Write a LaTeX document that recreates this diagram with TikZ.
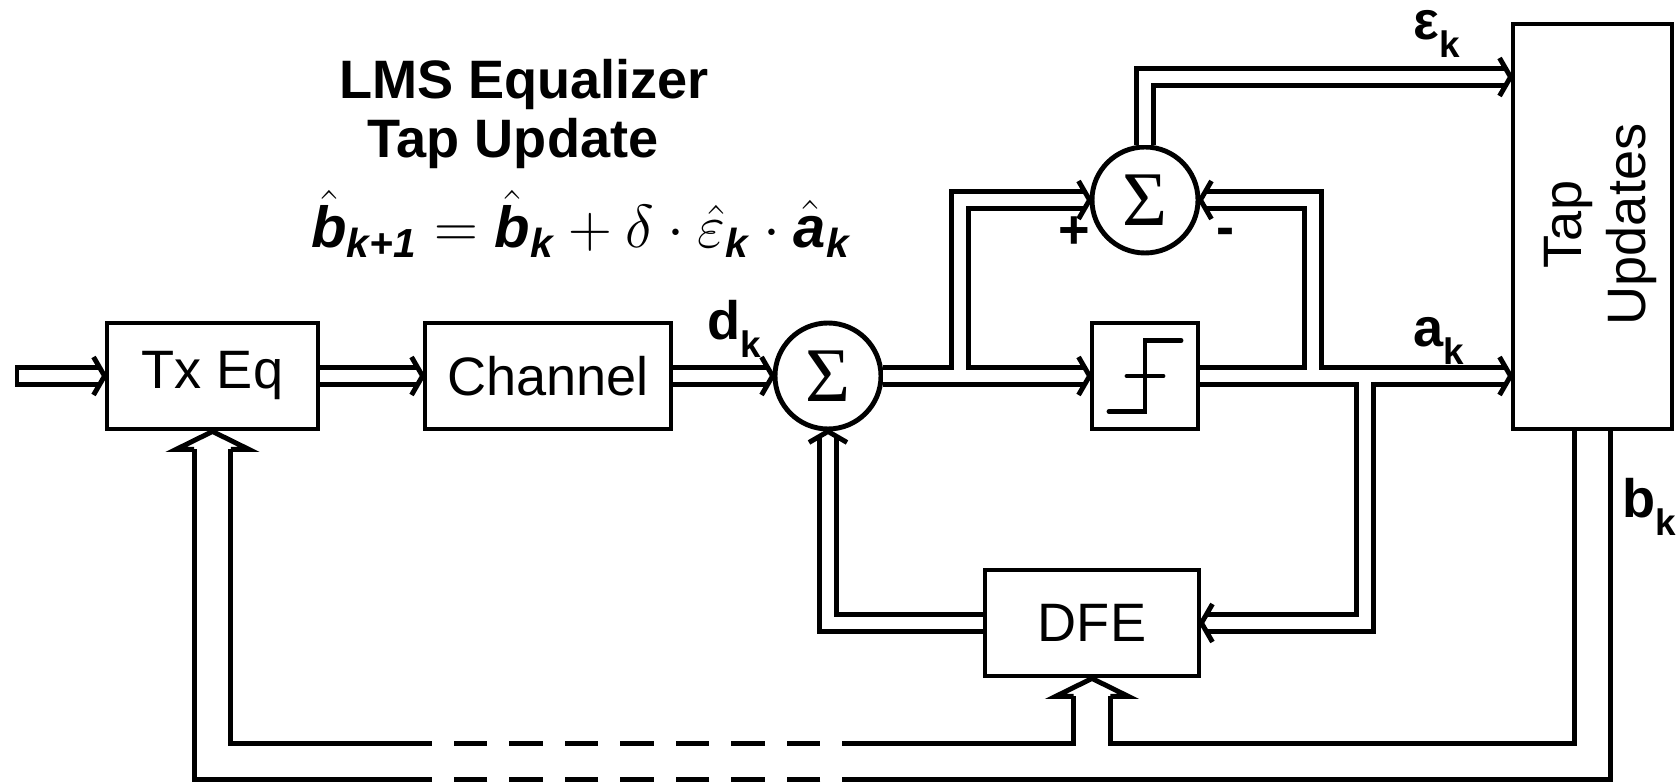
\documentclass[tikz,border=0pt]{standalone}
\usepackage{amsmath}
\usepackage{fontspec}
\setmainfont{Liberation Sans}
\newfontfamily\sigmafont{Liberation Serif}
\usepackage{tikz}
\usetikzlibrary{arrows.meta, calc}

\newcommand{\bsub}[2]{#1\raisebox{-5pt}{\fontsize{10.5}{11}\selectfont #2}}
\newcommand{\bhat}[1]{\hat{\text{\bfseries\itshape #1}}}

\begin{document}
\begin{tikzpicture}[
    blk/.style={draw, line width=1.4pt, minimum height=1.06cm, inner sep=0pt,
        font=\fontsize{15.4}{18}\selectfont},
    sumnode/.style={draw, circle, line width=1.4pt, minimum size=1.06cm, inner sep=0pt,
        font=\sigmafont\fontsize{22}{22}\selectfont},
    bus/.style={double, double distance=3.4pt, line width=1.4pt, shorten >=0.05cm},
    widebus/.style={double, double distance=9pt, line width=1.4pt},
    lbl/.style={font=\bfseries\fontsize{15.4}{18}\selectfont, inner sep=0pt},
    pics/narrowhead/.style={code={
        \draw[line width=1.4pt, line join=miter] (-0.11,0.19) -- (0,0) -- (-0.11,-0.19);
    }},
    pics/widehead/.style={code={
        \draw[line width=1.4pt, line join=miter] (-0.18,0.183) -- (-0.18,0.365) -- (0,0) -- (-0.18,-0.365) -- (-0.18,-0.183);
    }}
]
    % Frame of the picture
    \useasboundingbox (0,0) rectangle (16.77,-7.83);

    % Blocks
    \node[blk, minimum width=2.11cm] (txeq) at (2.125,-3.76) {Tx Eq};
    \node[blk, minimum width=2.46cm] (chan) at (5.48,-3.76) {Channel};
    \node[sumnode] (sum1) at (8.28,-3.76) {Σ};
    \node[sumnode] (sum2) at (11.45,-2.00) {Σ};
    \node[blk, minimum width=1.06cm] (slicer) at (11.45,-3.76) {};
    \node[blk, minimum width=2.14cm] (dfe) at (10.92,-6.23) {DFE};
    \node[blk, minimum width=1.59cm, minimum height=4.05cm] (tap) at (15.925,-2.265) {};
    \node[rotate=90, align=center, font=\fontsize{15.4}{18}\selectfont] (taptxt) at ($(tap.center)+(0.08,0.02)$) {Tap\\Updates};

    % Step inside the slicer
    \draw[line width=1.4pt, line cap=round] ($(slicer.center)+(-0.36,-0.355)$) -- ++(0.36,0) -- ++(0,0.71) -- ++(0.36,0);
    \draw[line width=1.4pt, line cap=round] ($(slicer.center)+(-0.18,0)$) -- ++(0.36,0);

    % Points on the buses
    \coordinate (in) at (0.17,-3.76);
    \coordinate (j1) at (9.60,-3.70);
    \coordinate (j2) at (13.13,-3.70);
    \coordinate (j3) at (13.65,-3.82);
    \coordinate (epsy) at (0,-0.77);
    \coordinate (dashR) at (8.76,-7.615);
    \coordinate (dashL) at (4.20,-7.615);
    \coordinate (jb) at (10.92,-7.456);

    % Forward path
    \draw[bus] (in) -- (txeq.west);
    \draw[line width=1.4pt] ($(in)+(0,0.109)$) -- ($(in)+(0,-0.109)$);
    \draw[bus] (txeq.east) -- (chan.west);
    \draw[bus] (chan.east) -- (sum1.west);
    \draw[bus] (sum1.east) -- (slicer.west);
    \draw[bus] (slicer.east) -- (slicer.east -| tap.west);
    \pic at (txeq.west) {narrowhead};
    \pic at (chan.west) {narrowhead};
    \pic at (sum1.west) {narrowhead};
    \pic at (slicer.west) {narrowhead};
    \pic at (slicer.east -| tap.west) {narrowhead};

    % Error path
    \draw[bus] (j1) |- (sum2.west);
    \draw[bus] (j2) |- (sum2.east);
    \draw[bus] (sum2.north) |- (epsy -| tap.west);
    \pic at (sum2.west) {narrowhead};
    \pic[rotate=180] at (sum2.east) {narrowhead};
    \pic at (epsy -| tap.west) {narrowhead};

    % Feedback through the DFE
    \draw[bus] (j3) |- (dfe.east);
    \draw[bus] (dfe.west) -| (sum1.south);
    \pic[rotate=180] at (dfe.east) {narrowhead};
    \pic[rotate=90] at (sum1.south) {narrowhead};

    % Tap update bus
    \draw[widebus] (tap.south) |- (dashR);
    \draw[widebus, dash pattern=on 9.6pt off 6.2pt] (dashR) -- (dashL);
    \draw[widebus, shorten >=0.18cm] (dashL) -| (txeq.south);
    \draw[widebus, shorten >=0.18cm] (jb) -- (dfe.south);
    \pic[rotate=90] at (txeq.south) {widehead};
    \pic[rotate=90] at (dfe.south) {widehead};

    % Labels
    \node[lbl, anchor=base west] (dk) at (7.07,-3.40) {\bsub{d}{k}};
    \node[lbl, anchor=base west] (ak) at (14.13,-3.47) {\bsub{a}{k}};
    \node[lbl, anchor=base west] (ek) at (14.13,-0.40) {\bsub{ε}{k}};
    \node[lbl, anchor=base west] (bk) at (16.22,-5.18) {\bsub{b}{k}};
    \node[lbl] (plus) at (10.74,-2.33) {+};
    \node[lbl] (minus) at (12.25,-2.37) {-};

    % Title and update rule
    \node[lbl, anchor=base] (ttl1) at (5.24,-0.99) {LMS Equalizer};
    \node[lbl, anchor=base] (ttl2) at (5.13,-1.58) {Tap Update};
    \node[inner sep=0pt, anchor=base, font=\fontsize{16.5}{20}\selectfont] (eq) at (5.81,-2.48)
        {$\bhat{b}_{\text{\bfseries\itshape k+1}} = \bhat{b}_{\text{\bfseries\itshape k}} + \delta\cdot\hat{\varepsilon}_{\text{\bfseries\itshape k}}\cdot\bhat{a}_{\text{\bfseries\itshape k}}$};
\end{tikzpicture}
\end{document}
